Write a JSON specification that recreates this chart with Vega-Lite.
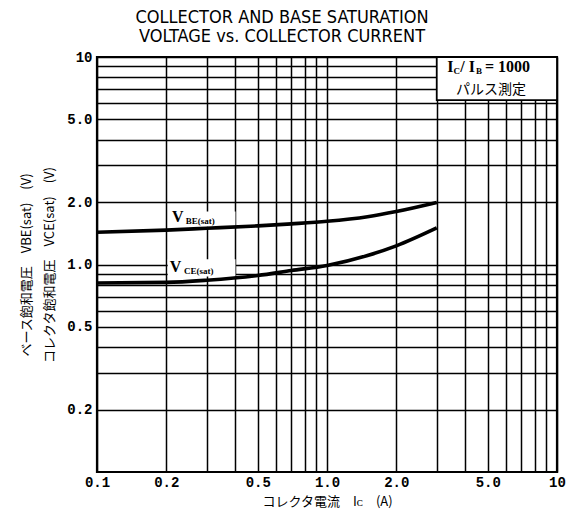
{
  "$schema": "https://vega.github.io/schema/vega-lite/v6.json",
  "width": 460,
  "height": 415,
  "autosize": {"type": "none"},
  "padding": {"left": 97, "top": 57, "right": 27, "bottom": 50},
  "background": "white",
  "title": {
    "text": ["COLLECTOR AND BASE SATURATION", "VOLTAGE vs. COLLECTOR CURRENT"],
    "font": "Liberation Sans Narrow, DejaVu Sans Condensed, Liberation Sans",
    "fontSize": 18,
    "fontWeight": "normal",
    "color": "black",
    "lineHeight": 19,
    "offset": 4,
    "dx": -45,
    "anchor": "middle"
  },
  "config": {
    "view": {"stroke": "black", "strokeWidth": 2.2},
    "axis": {
      "grid": true,
      "gridColor": "black",
      "gridOpacity": 1,
      "gridWidth": 1.5,
      "ticks": false,
      "domain": false,
      "labelColor": "black",
      "labelFont": "Liberation Mono",
      "labelFontWeight": "bold",
      "labelFontSize": 14,
      "labelOverlap": false,
      "labelFlush": false,
      "titleColor": "black",
      "titleFont": "Noto Sans CJK JP",
      "titleFontWeight": "normal",
      "titleFontSize": 13
    }
  },
  "datasets": {
    "curves": [
      {"series": "VBE", "ic": 0.1, "v": 1.43},
      {"series": "VBE", "ic": 0.2, "v": 1.465},
      {"series": "VBE", "ic": 0.3, "v": 1.495},
      {"series": "VBE", "ic": 0.5, "v": 1.535},
      {"series": "VBE", "ic": 0.7, "v": 1.57},
      {"series": "VBE", "ic": 1.0, "v": 1.615},
      {"series": "VBE", "ic": 1.5, "v": 1.70},
      {"series": "VBE", "ic": 2.0, "v": 1.80},
      {"series": "VBE", "ic": 3.0, "v": 1.99},
      {"series": "VCE", "ic": 0.1, "v": 0.815},
      {"series": "VCE", "ic": 0.2, "v": 0.82},
      {"series": "VCE", "ic": 0.3, "v": 0.84},
      {"series": "VCE", "ic": 0.5, "v": 0.885},
      {"series": "VCE", "ic": 0.7, "v": 0.935},
      {"series": "VCE", "ic": 1.0, "v": 0.99},
      {"series": "VCE", "ic": 1.5, "v": 1.105},
      {"series": "VCE", "ic": 2.0, "v": 1.23},
      {"series": "VCE", "ic": 3.0, "v": 1.50}
    ],
    "box": [
      {"x": 3, "x2": 10, "y": 6.2, "y2": 10}
    ],
    "labelbg": [
      {"x": 0.205, "x2": 0.40, "y": 1.52, "y2": 1.80},
      {"x": 0.203, "x2": 0.40, "y": 0.875, "y2": 1.06}
    ],
    "bigtext": [
      {"t": "V", "x": 0.212, "y": 1.70},
      {"t": "V", "x": 0.207, "y": 0.97},
      {"t": "I", "x": 3.33, "y": 8.95},
      {"t": "/ I", "x": 3.80, "y": 8.95},
      {"t": "= 1000", "x": 4.86, "y": 8.95}
    ],
    "smalltext": [
      {"t": "BE(sat)", "x": 0.243, "y": 1.62},
      {"t": "CE(sat)", "x": 0.239, "y": 0.93},
      {"t": "C", "x": 3.55, "y": 8.55},
      {"t": "B", "x": 4.45, "y": 8.55}
    ],
    "cjktext": [
      {"t": "パルス測定", "x": 5.16, "y": 6.9}
    ]
  },
  "layer": [
    {
      "data": {"name": "labelbg"},
      "mark": {"type": "rect", "fill": "white", "stroke": null},
      "encoding": {
        "x": {"field": "x", "type": "quantitative", "scale": {"type": "log", "domain": [0.1, 10], "nice": false},
          "axis": {
            "values": [0.1,0.2,0.3,0.4,0.5,0.6,0.7,0.8,0.9,1,2,3,4,5,6,7,8,9,10],
            "labelExpr": "datum.value == 10 ? '10' : (indexof([0.1,0.2,0.5,1,2,5], datum.value) >= 0 ? format(datum.value, '.1f') : '')",
            "labelPadding": 3,
            "title": "コレクタ電流　Iᴄ　(A)",
            "titlePadding": 6
          }},
        "x2": {"field": "x2"},
        "y": {"field": "y", "type": "quantitative", "scale": {"type": "log", "domain": [0.1, 10], "nice": false},
          "axis": {
            "values": [0.2,0.3,0.4,0.5,0.6,0.7,0.8,0.9,1,2,3,4,5,6,7,8,9,10],
            "labelExpr": "datum.value == 10 ? '10' : (indexof([0.2,0.5,1,2,5], datum.value) >= 0 ? format(datum.value, '.1f') : '')",
            "labelPadding": 5,
            "title": ["ベース飽和電圧　VBE(sat)　(V)", "コレクタ飽和電圧　VCE(sat)　(V)"],
            "titleLineHeight": 23,
            "titlePadding": 10
          }},
        "y2": {"field": "y2"}
      }
    },
    {
      "data": {"name": "box"},
      "mark": {"type": "rect", "fill": "white", "stroke": "black", "strokeWidth": 1.8},
      "encoding": {
        "x": {"field": "x", "type": "quantitative"},
        "x2": {"field": "x2"},
        "y": {"field": "y", "type": "quantitative"},
        "y2": {"field": "y2"}
      }
    },
    {
      "data": {"name": "curves"},
      "mark": {"type": "line", "color": "black", "strokeWidth": 3.6, "interpolate": "monotone"},
      "encoding": {
        "x": {"field": "ic", "type": "quantitative"},
        "y": {"field": "v", "type": "quantitative"},
        "detail": {"field": "series"}
      }
    },
    {
      "data": {"name": "bigtext"},
      "mark": {"type": "text", "font": "Liberation Serif", "fontWeight": "bold", "fontSize": 16, "align": "left", "baseline": "middle", "color": "black"},
      "encoding": {
        "x": {"field": "x", "type": "quantitative"},
        "y": {"field": "y", "type": "quantitative"},
        "text": {"field": "t"}
      }
    },
    {
      "data": {"name": "smalltext"},
      "mark": {"type": "text", "font": "Liberation Serif", "fontWeight": "bold", "fontSize": 9, "align": "left", "baseline": "middle", "color": "black"},
      "encoding": {
        "x": {"field": "x", "type": "quantitative"},
        "y": {"field": "y", "type": "quantitative"},
        "text": {"field": "t"}
      }
    },
    {
      "data": {"name": "cjktext"},
      "mark": {"type": "text", "font": "Noto Sans CJK JP", "fontSize": 14, "align": "center", "baseline": "middle", "color": "black"},
      "encoding": {
        "x": {"field": "x", "type": "quantitative"},
        "y": {"field": "y", "type": "quantitative"},
        "text": {"field": "t"}
      }
    }
  ]
}
